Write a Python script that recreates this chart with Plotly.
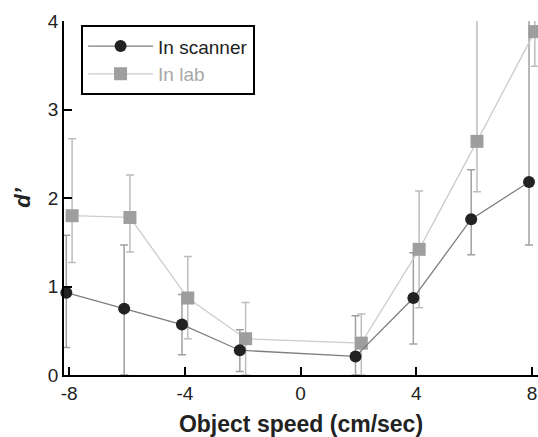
import plotly.graph_objects as go

speeds = [-8, -6, -4, -2, 2, 4, 6, 8]
scanner_d = [0.93, 0.75, 0.57, 0.28, 0.21, 0.87, 1.76, 2.18]
scanner_err_plus = [0.65, 0.72, 0.34, 0.23, 0.46, 0.51, 0.56, 2.0]
scanner_err_minus = [0.62, 0.75, 0.34, 0.24, 0.21, 0.52, 0.40, 0.71]
lab_d = [1.80, 1.78, 0.87, 0.41, 0.36, 1.42, 2.64, 3.88]
lab_err_plus = [0.87, 0.48, 0.47, 0.41, 0.33, 0.66, 1.5, 0.6]
lab_err_minus = [0.53, 0.39, 0.46, 0.41, 0.36, 0.66, 0.57, 0.39]
x_ticks = [-8, -4, 0, 4, 8]
x_tick_labels = ["-8", "-4", "0", "4", "8"]
y_ticks = [0, 1, 2, 3, 4]

OFFSET = 0.1
scan_x = [s - OFFSET for s in speeds]
lab_x = [s + OFFSET for s in speeds]

FONT = "Liberation Sans, Arial, sans-serif"

fig = go.Figure()

# error bars (clipped to plot area)
fig.add_trace(go.Scatter(
    x=scan_x, y=scanner_d, mode="markers", marker=dict(opacity=0, size=1),
    error_y=dict(type="data", symmetric=False, array=scanner_err_plus,
                 arrayminus=scanner_err_minus, color="#a0a0a0", thickness=1.5, width=4),
    showlegend=False, hoverinfo="skip"))
fig.add_trace(go.Scatter(
    x=lab_x, y=lab_d, mode="markers", marker=dict(opacity=0, size=1),
    error_y=dict(type="data", symmetric=False, array=lab_err_plus,
                 arrayminus=lab_err_minus, color="#bdbdbd", thickness=1.5, width=4),
    showlegend=False, hoverinfo="skip"))

fig.add_trace(go.Scatter(
    x=lab_x, y=lab_d, mode="lines+markers", name="<span style='color:#a8a8a8'>In lab</span>",
    line=dict(color="#cccccc", width=1.3),
    marker=dict(symbol="square", size=13, color="#9e9e9e"),
    cliponaxis=False, legendrank=2))
fig.add_trace(go.Scatter(
    x=scan_x, y=scanner_d, mode="lines+markers", name="In scanner",
    line=dict(color="#7e7e7e", width=1.3),
    marker=dict(symbol="circle", size=12, color="#222222"),
    cliponaxis=False, legendrank=1))

axis_common = dict(showgrid=False, zeroline=False, showline=True, linecolor="black",
                   linewidth=1.5, ticks="inside", ticklen=8, tickwidth=1.5,
                   tickcolor="black", tickfont=dict(size=19, color="#222", family=FONT))

fig.update_layout(
    width=538, height=437,
    margin=dict(l=64, r=0, t=21, b=62),
    paper_bgcolor="white", plot_bgcolor="white",
    font=dict(family=FONT, color="#222"),
    xaxis=dict(range=[-8.18, 8.21], tickvals=x_ticks, ticktext=x_tick_labels,
               title=dict(text="<b>Object speed (cm/sec)</b>", font=dict(size=23, color="#222"), standoff=13),
               **axis_common),
    yaxis=dict(range=[0, 4], tickvals=y_ticks,
               title=dict(text="<b><i>d’</i></b>", font=dict(size=22, color="#222"), standoff=11),
               **axis_common),
    legend=dict(x=0.036, y=0.988, xanchor="left", yanchor="top",
                bordercolor="black", borderwidth=2, bgcolor="white",
                font=dict(size=19, color="#222", family=FONT), itemwidth=65,
                entrywidth=172),
)

fig.write_html("out.html")
